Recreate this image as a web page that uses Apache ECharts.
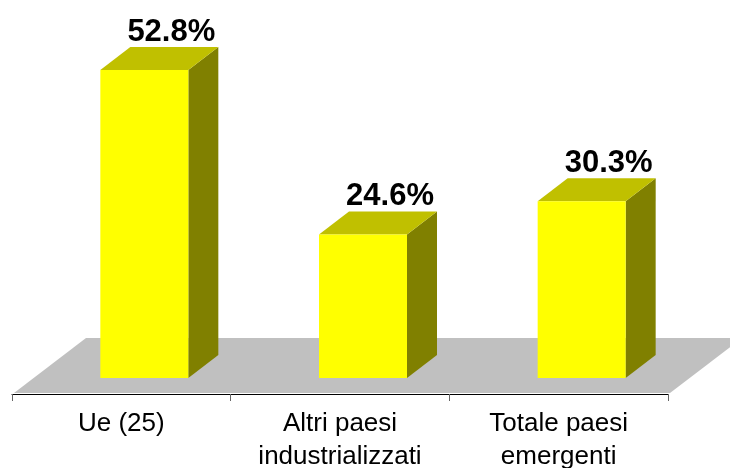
<!DOCTYPE html>
<html>
<head>
<meta charset="utf-8">
<script src="https://cdn.jsdelivr.net/npm/echarts@6/dist/echarts.min.js"></script>
<style>
  html, body { margin: 0; padding: 0; background: #ffffff; }
  #chart { width: 730px; height: 468px; }
</style>
</head>
<body>
<div id="chart"></div>
<script>
// Categories and their shares (%)
const categories = ['Ue (25)', 'Altri paesi\nindustrializzati', 'Totale paesi\nemergenti'];
const shares = [52.8, 24.6, 30.3];

// 3D look: colours of the faces and the projection offsets
const FRONT = '#ffff00';
const TOP = '#c0c000';
const SIDE = '#808000';
const FLOOR = '#c0c0c0';
const BAR_W = 88;
const FRONT_SHIFT = [23, -16];   // front face sits part way into the floor
const DEPTH = [30, -23];         // bar depth
const FLOOR_DEPTH = [72, -55];   // floor depth
const FONT = "'Liberation Sans', Arial, Helvetica, sans-serif";

const chart = echarts.init(document.getElementById('chart'), null, { renderer: 'canvas' });

function renderFloor(params) {
  const cs = params.coordSys;
  const yb = cs.y + cs.height - 1;
  const xl = cs.x + 2, xr = cs.x + cs.width + 2;
  const [dx, dy] = FLOOR_DEPTH;
  return {
    type: 'polygon',
    shape: { points: [[xl, yb], [xr, yb], [xr + dx, yb + dy], [xl + dx, yb + dy]] },
    style: { fill: FLOOR }
  };
}

function renderBar(params, api) {
  const cat = api.value(0);
  const v = api.value(1);
  const base = api.coord([cat, 0]);
  const top = api.coord([cat, v]);
  const cx = base[0] + FRONT_SHIFT[0];
  const x0 = cx - BAR_W / 2, x1 = cx + BAR_W / 2;
  const yb = base[1] + FRONT_SHIFT[1];
  const yt = top[1] + FRONT_SHIFT[1];
  const [dx, dy] = DEPTH;
  return {
    type: 'group',
    children: [
      { type: 'polygon',
        shape: { points: [[x1, yb], [x1 + dx, yb + dy], [x1 + dx, yt + dy], [x1, yt]] },
        style: { fill: SIDE } },
      { type: 'polygon',
        shape: { points: [[x0, yt], [x1, yt], [x1 + dx, yt + dy], [x0 + dx, yt + dy]] },
        style: { fill: TOP } },
      { type: 'rect',
        shape: { x: x0, y: yt, width: BAR_W, height: yb - yt },
        style: { fill: FRONT } },
      { type: 'text',
        x: cx + 27, y: yt - 38,
        style: {
          text: v.toFixed(1) + '%',
          fill: '#000', align: 'center', verticalAlign: 'middle',
          font: 'bold 31px ' + FONT
        } }
    ]
  };
}

chart.setOption({
  animation: false,
  backgroundColor: '#ffffff',
  grid: { left: 12, right: 62, top: 44, bottom: 74, containLabel: false, outerBoundsMode: 'none' },
  xAxis: {
    type: 'category',
    data: categories,
    boundaryGap: true,
    axisLine: { show: true, lineStyle: { color: '#000', width: 1 } },
    axisTick: { show: true, length: 7, lineStyle: { color: '#666' } },
    axisLabel: {
      color: '#000', fontSize: 26, fontFamily: FONT,
      lineHeight: 33, margin: 13, interval: 0
    },
    splitLine: { show: false },
    z: 10
  },
  yAxis: { type: 'value', min: 0, max: 60, show: false },
  series: [
    { type: 'custom', name: 'floor', data: [[0, 0]], renderItem: renderFloor, silent: true, z: 1, clip: false },
    { type: 'custom', name: 'share', data: shares.map((v, i) => [i, v]), renderItem: renderBar, z: 2, clip: false }
  ]
});
</script>
</body>
</html>
